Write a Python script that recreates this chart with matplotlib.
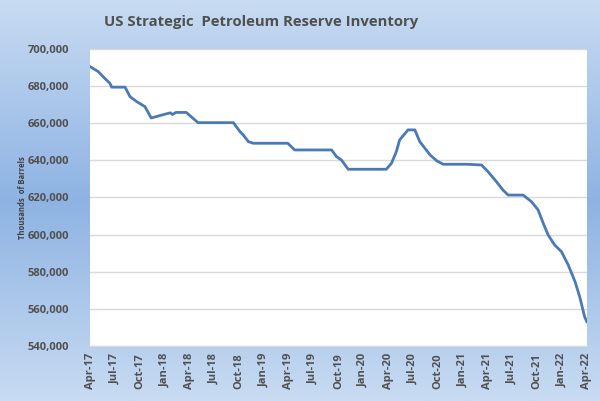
import numpy as np
import pandas as pd
import matplotlib
matplotlib.use("Agg")
import matplotlib.pyplot as plt
import matplotlib.dates as mdates
from matplotlib.colors import LinearSegmentedColormap
from matplotlib.ticker import FuncFormatter

# SPR inventory, thousands of barrels
dates = ["2017-04-01", "2017-05-01", "2017-05-25", "2017-06-13", "2017-06-20",
         "2017-08-08", "2017-08-26", "2017-09-20", "2017-10-20", "2017-11-12",
         "2017-12-21", "2018-01-21", "2018-01-29", "2018-02-11", "2018-03-21",
         "2018-05-03", "2018-09-10", "2018-10-04", "2018-10-16", "2018-11-04",
         "2018-11-22", "2019-03-29", "2019-04-23", "2019-09-06", "2019-09-24",
         "2019-10-12", "2019-11-06", "2020-03-25", "2020-04-13", "2020-05-01",
         "2020-05-13", "2020-06-13", "2020-07-08", "2020-07-26", "2020-08-14",
         "2020-09-02", "2020-09-27", "2020-10-20", "2021-01-15", "2021-03-10",
         "2021-04-03", "2021-05-04", "2021-05-28", "2021-06-16", "2021-08-10",
         "2021-09-10", "2021-10-04", "2021-10-23", "2021-11-10", "2021-12-04",
         "2021-12-29", "2022-01-23", "2022-02-17", "2022-03-06", "2022-03-24",
         "2022-04-01"]
inventory = [690500, 687800, 684200, 681500, 679400,
             679400, 674300, 671600, 668900, 662800,
             664400, 665600, 664700, 665800, 665800,
             660300, 660300, 655500, 653700, 650100,
             649200, 649200, 645600, 645600, 642000,
             640200, 635200, 635200, 638400, 644700,
             651000, 656400, 656400, 650100, 646500,
             642900, 639700, 637900, 637900, 637500,
             633900, 628500, 624000, 621300, 621300,
             617700, 613300, 606100, 599800, 594400,
             590800, 583600, 574600, 566500, 555800,
             553100]

x = pd.to_datetime(dates)
tick_dates = pd.date_range("2017-04-01", "2022-04-01", freq="3MS")

fnt = "Open Sans"
txt_color = "#505050"

fig = plt.figure(figsize=(6, 4.01), dpi=100)

# background: light-dark-light vertical gradient
bg = fig.add_axes([0, 0, 1, 1], zorder=0)
cmap = LinearSegmentedColormap.from_list("bg", ["#c8dbf2", "#8eb3e3", "#c8dbf2"])
grad = np.linspace(0, 1, 256).reshape(-1, 1)
bg.imshow(grad, aspect="auto", cmap=cmap, extent=[0, 1, 0, 1])
bg.axis("off")

ax = fig.add_axes([0.15, 0.137, 0.828, 0.741], zorder=1)
ax.set_facecolor("white")
ax.plot(x, inventory, color="#4a7ab5", linewidth=2.0, solid_joinstyle="round")

ax.set_ylim(540000, 700000)
ax.set_yticks(range(540000, 700001, 20000))
ax.yaxis.set_major_formatter(FuncFormatter(lambda v, p: f"{int(v):,}"))
ax.set_xlim(tick_dates[0], tick_dates[-1])
ax.set_xticks(tick_dates)
ax.xaxis.set_major_formatter(mdates.DateFormatter("%b-%y"))

ax.grid(axis="y", color="#d9d9d9", linewidth=1)
ax.set_axisbelow(True)
for s in ["top", "right", "left"]:
    ax.spines[s].set_visible(False)
ax.spines["bottom"].set_color("#d9d9d9")
ax.tick_params(axis="both", length=0, colors=txt_color)
ax.tick_params(axis="y", pad=15)
ax.tick_params(axis="x", pad=5)
for lab in ax.get_yticklabels() + ax.get_xticklabels():
    lab.set_fontfamily(fnt)
    lab.set_fontweight("bold")
    lab.set_fontsize(8)
for lab in ax.get_xticklabels():
    lab.set_rotation(90)

fig.text(0.038, 0.507, "Thousands  of Barrels", rotation=90, ha="center", va="center",
         fontsize=5.5, fontweight="bold", family=fnt, color="#404040")
fig.text(0.436, 0.945, "US Strategic  Petroleum Reserve Inventory", ha="center", va="center",
         fontsize=10.7, fontweight="bold", family=fnt, color=txt_color)

fig.savefig("out.png", dpi=100)
